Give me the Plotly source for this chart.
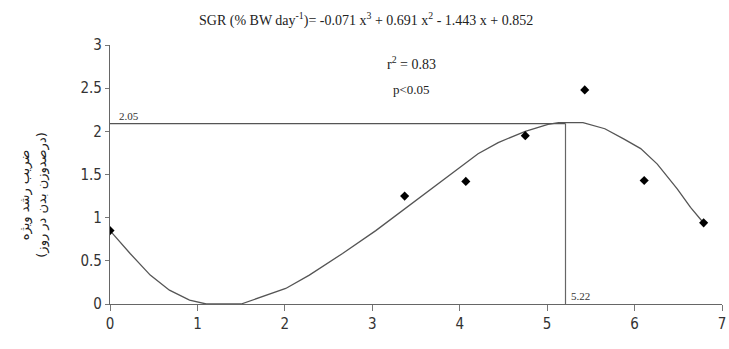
import plotly.graph_objects as go

# Observed data points
obs_x = [0, 3.37, 4.07, 4.75, 5.43, 6.11, 6.79]
obs_y = [0.85, 1.25, 1.42, 1.95, 2.48, 1.43, 0.94]

# Fitted curve as drawn
curve_x = [0, 0.23, 0.46, 0.68, 0.91, 1.10, 1.50, 1.75, 2.01, 2.28, 2.66, 3.04, 3.42,
           3.74, 4.21, 4.44, 4.75, 5.01, 5.13, 5.41, 5.66, 5.88, 6.07, 6.26, 6.49, 6.64, 6.78]
curve_y = [0.85, 0.585, 0.335, 0.16, 0.046, 0, 0, 0.085, 0.18, 0.335, 0.585, 0.85, 1.14,
           1.39, 1.74, 1.87, 2.0, 2.08, 2.10, 2.10, 2.03, 1.91, 1.80, 1.62, 1.33, 1.12, 0.95]

# Peak guide lines
peak_x = 5.21
peak_y = 2.09
peak_x_label = "5.22"
peak_y_label = "2.05"

x_ticks = [0, 1, 2, 3, 4, 5, 6, 7]
y_ticks = [0, 0.5, 1, 1.5, 2, 2.5, 3]
y_tick_labels = ["0", "0.5", "1", "1.5", "2", "2.5", "3"]

title_text = "SGR (% BW day<sup>-1</sup>)= -0.071 x<sup>3</sup> + 0.691 x<sup>2</sup> - 1.443 x + 0.852"
r2_text = "r<sup>2</sup> = 0.83"
p_text = "p<0.05"
y_title = "ضریب رشد ویژه<br>(درصدوزن بدن در روز)"

serif = "Liberation Serif, Times New Roman, serif"
narrow = "Liberation Sans Narrow, DejaVu Sans Condensed, Arial Narrow, sans-serif"

fig = go.Figure()

# guide lines
fig.add_trace(go.Scatter(x=[0, peak_x], y=[peak_y, peak_y], mode="lines",
                         line=dict(color="#555555", width=1.2), hoverinfo="skip", showlegend=False))
fig.add_trace(go.Scatter(x=[peak_x, peak_x], y=[0, peak_y], mode="lines",
                         line=dict(color="#666666", width=1.2), hoverinfo="skip", showlegend=False))

# curve
fig.add_trace(go.Scatter(x=curve_x, y=curve_y, mode="lines",
                         line=dict(color="#555555", width=1.3), showlegend=False))

# points
fig.add_trace(go.Scatter(x=obs_x, y=obs_y, mode="markers",
                         marker=dict(symbol="diamond", size=7, color="black"), showlegend=False))

fig.update_layout(
    width=729, height=349,
    margin=dict(l=110, r=3, t=45, b=45),
    paper_bgcolor="white", plot_bgcolor="white",
    showlegend=False,
)

fig.update_xaxes(range=[0, 7], tickvals=x_ticks, ticks="outside", ticklen=6,
                 tickcolor="#777777", showline=True, linecolor="#666666", linewidth=1.2,
                 showgrid=False, zeroline=False, ticklabeloverflow="allow",
                 tickfont=dict(family=narrow, size=15, color="#333333"))
fig.update_yaxes(range=[0, 3], tickvals=y_ticks, ticktext=y_tick_labels, ticks="outside",
                 ticklen=4, tickcolor="#777777", showline=True, linecolor="#666666",
                 linewidth=1.2, showgrid=False, zeroline=False,
                 tickfont=dict(family=narrow, size=15, color="#333333"))

fig.add_annotation(text=title_text, xref="paper", yref="paper", x=0.418, y=1.0,
                   yshift=26, showarrow=False, xanchor="center", yanchor="middle",
                   font=dict(family=serif, size=14, color="#222222"))
fig.add_annotation(text=r2_text, xref="x", yref="y", x=3.45, y=2.79, showarrow=False,
                   font=dict(family=serif, size=14, color="#222222"))
fig.add_annotation(text=p_text, xref="x", yref="y", x=3.45, y=2.49, showarrow=False,
                   font=dict(family=serif, size=13, color="#222222"))
fig.add_annotation(text=peak_y_label, xref="x", yref="y", x=0.08, y=peak_y, yanchor="bottom",
                   xanchor="left", showarrow=False,
                   font=dict(family=serif, size=11, color="#333333"))
fig.add_annotation(text=peak_x_label, xref="x", yref="y", x=peak_x + 0.04, y=0,
                   yanchor="bottom", xanchor="left", showarrow=False,
                   font=dict(family=serif, size=11, color="#333333"))
fig.add_annotation(text=y_title, xref="paper", yref="paper", x=-0.125, y=0.42,
                   xanchor="center", yanchor="middle", textangle=-90, showarrow=False,
                   font=dict(family="DejaVu Sans, sans-serif", size=13, color="#222222"))

fig.write_html("out.html")
